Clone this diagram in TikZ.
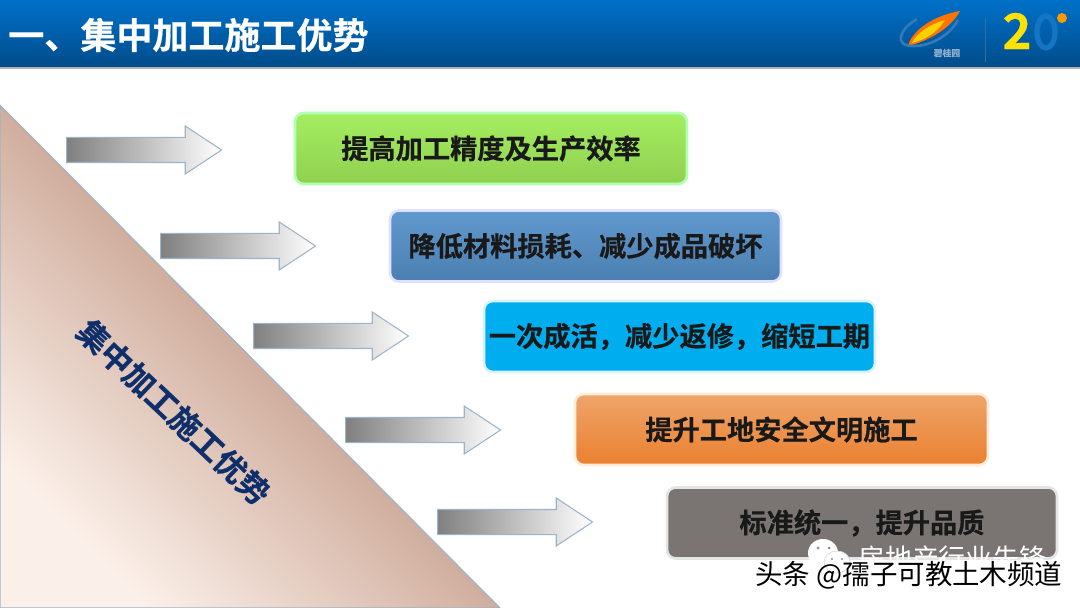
\documentclass[tikz,border=0pt]{standalone}
\usepackage{fontspec}
\setmainfont{Noto Sans CJK SC}[BoldFont={Noto Sans CJK SC Bold},BoldFeatures={FakeBold=0.5}]
\usetikzlibrary{shapes.arrows}
\definecolor{headtop}{HTML}{0071C9}
\definecolor{headbot}{HTML}{004C8A}
\definecolor{tanlight}{HTML}{FBF0E9}
\definecolor{tandark}{HTML}{A56C53}
\definecolor{navy}{HTML}{0F2F6B}
\definecolor{edgeblue}{HTML}{9DB4C8}
\tikzset{
  pointer/.style={single arrow, anchor=tail, draw=edgeblue, line width=0.6pt, left color=black!50, middle color=black!14, right color=white,
    inner xsep=0pt, inner ysep=12*0.02cm, single arrow head extend=11.5*0.02cm,
    single arrow tip angle=67, minimum height=155*0.02cm},
  card/.style={draw=#1, line width=1.5pt, rounded corners=5pt, text=black!90,
    font=\fontsize{15.5pt}{18pt}\selectfont\bfseries, inner sep=0pt,
    minimum height=71*0.02cm},
}
\begin{document}
\begin{tikzpicture}[x=0.02cm, y=-0.02cm]
    % Page
    \useasboundingbox (0,0) rectangle (1080,608);
    \fill[white] (0,0) rectangle (1080,608);

    % Header band
    \fill[black!30] (0,66) rectangle (1080,69);
    \shade[top color=headtop, bottom color=headbot] (0,0) rectangle (1080,67);
    \node[anchor=west, text=white, inner sep=0pt, font=\fontsize{20.5pt}{24pt}\selectfont\bfseries] (title) at (8,35) {一、集中加工施工优势};

    % Logos
    \fill[orange!90!red] (960,11) .. controls (935,15) and (912,30) .. (908,46) .. controls (925,42) and (950,30) .. (960,11);
    \fill[yellow!70!orange] (945,20) .. controls (930,24) and (916,34) .. (912,43) .. controls (925,40) and (938,32) .. (945,20);
    \draw[teal!70!blue!80!white, line width=1.5pt] (917,19) .. controls (898,30) and (895,46) .. (912,46) .. controls (930,47) and (950,35) .. (958,20);
    \node[text=white!55!headbot, inner sep=0pt, font=\fontsize{5pt}{6pt}\selectfont\bfseries] (brand) at (947,53) {碧桂园};
    \draw[white!20!headbot, line width=0.3pt] (985,18) -- (985,62);
    \node[text=yellow!85!orange, inner sep=0pt, font=\fontsize{28pt}{30pt}\selectfont\bfseries] (two) at (1017,31) {2};
    \draw[cyan!55!blue, line width=3pt] (1046,32) ellipse (9 and 16);
    \fill[orange!80!yellow] (1062,18) circle (5);

    % Triangle
    \shade[left color=tanlight, right color=tandark, shading angle=135, draw=edgeblue, line width=0.6pt] (0,105) -- (500,608) -- (0,608) -- cycle;
    \node[rotate=-43.5, text=navy, inner sep=0pt, font=\fontsize{17.9pt}{22pt}\selectfont\bfseries] (side) at (174,412) {集中加工施工优势};

    % Arrows
    \node[pointer] (a1) at (66,150) {};
    \node[pointer] (a2) at (160,246) {};
    \node[pointer] (a3) at (253,336) {};
    \node[pointer] (a4) at (345,430) {};
    \node[pointer] (a5) at (437,522) {};

    % Cards
    \node[card={green!30!white}, top color={rgb,255:red,164;green,238;blue,96}, bottom color={rgb,255:red,144;green,208;blue,80}, minimum width=392*0.02cm] (c1) at (491,148.5) {提高加工精度及生产效率};
    \node[card={blue!12!white}, top color={rgb,255:red,97;green,153;blue,207}, bottom color={rgb,255:red,75;green,127;blue,176}, minimum width=391*0.02cm] (c2) at (585.5,246) {降低材料损耗、减少成品破坏};
    \node[card={cyan!15!white}, fill={rgb,255:red,0;green,174;blue,239}, minimum width=391*0.02cm] (c3) at (679.5,336.5) {一次成活，减少返修，缩短工期};
    \node[card={orange!15!white}, top color={rgb,255:red,239;green,165;blue,107}, bottom color={rgb,255:red,234;green,128;blue,47}, minimum width=413*0.02cm] (c4) at (781.5,429.5) {提升工地安全文明施工};
    \node[card={black!10}, fill={rgb,255:red,122;green,117;blue,114}, minimum width=390*0.02cm] (c5) at (862,523) {标准统一，提升品质};

    % Watermark
    \fill[white] (823,553) ellipse (15 and 14);
    \fill[white, draw=black!15] (837,562) ellipse (13 and 11);
    \fill[black!45] (818,548) circle (1.5) (829,548) circle (1.5) (832,559) circle (1.2) (842,559) circle (1.2);
    \node[anchor=west, text=white, inner sep=0pt, font=\fontsize{15.3pt}{18pt}\selectfont] (mark) at (858,558) {房地产行业先锋};
    \node[anchor=west, text=black, inner sep=0pt, font=\fontsize{15.65pt}{18pt}\selectfont] (credit) at (755,575) {头条 @孺子可教土木频道};
\end{tikzpicture}
\end{document}
